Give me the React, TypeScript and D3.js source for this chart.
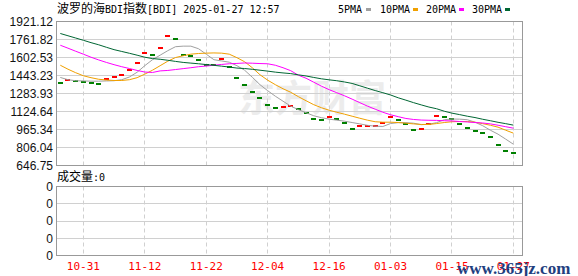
import React from 'react';
import * as d3 from 'd3';

const W = 578;
const H = 276;

const tickLabels = ['10-31', '11-12', '11-22', '12-04', '12-16', '01-03', '01-15', '01-27'];
const tickIndex = [3, 11, 19, 27, 35, 43, 51, 59];
const yTicks = [1921.12, 1761.82, 1602.53, 1443.23, 1283.93, 1124.64, 965.34, 806.04, 646.75];
const volTicks = [0, 1, 2, 3, 4];
const volTickLabels = ['0', '0', '0', '0', '0'];

const prevClose = 1390;
const close = [
  1381, 1399, 1395, 1390, 1381, 1372, 1408, 1426, 1452, 1492,
  1558, 1638, 1629, 1691, 1791, 1762, 1629, 1620, 1576, 1540,
  1534, 1585, 1517, 1417, 1355, 1300, 1240, 1178, 1160, 1166,
  1170, 1151, 1107, 1054, 1045, 1072, 1054, 1027, 974, 992,
  995, 997, 1027, 1072, 1045, 1010, 965, 968, 1012, 1089,
  1080, 1061, 1018, 983, 956, 930, 895, 824, 771, 753,
];
const ma5 = [
  1426, 1406, 1397, 1395, 1393, 1393, 1395, 1397, 1406, 1430,
  1472, 1530, 1583, 1623, 1663, 1698, 1703, 1703, 1680, 1632,
  1583, 1572, 1561, 1530, 1490, 1428, 1362, 1309, 1260, 1216,
  1172, 1141, 1114, 1087, 1070, 1057, 1048, 1039, 1027, 1015,
  1002, 995, 992, 1018, 1026, 1026, 1021, 1008, 1012, 1026,
  1052, 1058, 1057, 1052, 1030, 999, 959, 924, 880, 835,
];
const ma10 = [
  1534, 1499, 1468, 1441, 1424, 1410, 1403, 1399, 1399, 1406,
  1424, 1455, 1490, 1530, 1570, 1602, 1618, 1632, 1638, 1641,
  1643, 1641, 1632, 1601, 1565, 1512, 1450, 1402, 1362, 1326,
  1295, 1256, 1220, 1185, 1158, 1136, 1118, 1101, 1083, 1065,
  1048, 1034, 1030, 1030, 1027, 1021, 1015, 1010, 1010, 1018,
  1027, 1034, 1036, 1036, 1030, 1017, 1003, 986, 959, 933,
];
const ma20 = [
  1711, 1685, 1658, 1632, 1605, 1581, 1559, 1539, 1521, 1505,
  1488, 1474, 1470, 1484, 1488, 1496, 1504, 1512, 1521, 1527,
  1534, 1541, 1547, 1550, 1554, 1552, 1549, 1547, 1534, 1512,
  1486, 1446, 1419, 1384, 1349, 1318, 1291, 1264, 1234, 1203,
  1172, 1145, 1118, 1096, 1079, 1063, 1054, 1049, 1047, 1046,
  1043, 1041, 1036, 1032, 1027, 1023, 1015, 1003, 990, 977,
];
const ma30 = [
  1815, 1795, 1775, 1755, 1734, 1715, 1693, 1672, 1656, 1640,
  1623, 1605, 1593, 1587, 1578, 1568, 1559, 1553, 1547, 1540,
  1533, 1526, 1518, 1509, 1505, 1498, 1490, 1482, 1473, 1466,
  1460, 1449, 1439, 1426, 1414, 1405, 1397, 1386, 1373, 1352,
  1331, 1310, 1291, 1271, 1246, 1225, 1203, 1183, 1164, 1149,
  1127, 1110, 1097, 1083, 1071, 1056, 1043, 1029, 1017, 1004,
];

const legend = [
  { label: '5PMA', color: '#a0a0a0', data: ma5 },
  { label: '10PMA', color: '#f0a000', data: ma10 },
  { label: '20PMA', color: '#ff00ff', data: ma20 },
  { label: '30PMA', color: '#006633', data: ma30 },
];

const LEFT = 56.5;
const RIGHT = 522.5;
const TOP = 21.5;
const BOTTOM = 165.5;
const VTOP = 186.5;
const VBOTTOM = 255.5;

const MONO = "'DejaVu Sans Mono', 'Liberation Mono', monospace";
const CJK = "'Noto Sans CJK SC', sans-serif";
const SANS = "'Liberation Sans', Arial, sans-serif";

export default function App() {
  const x = d3.scaleLinear().domain([0, 59]).range([60.3, 513.4]);
  const y = d3.scaleLinear().domain([646.75, 1921.12]).range([BOTTOM, TOP]);
  const yv = d3.scaleLinear().domain([0, 4]).range([VBOTTOM, VTOP]);

  const line = d3
    .line<number>()
    .x((_, i) => x(i))
    .y((d) => y(d));

  const crisp = (v: number) => Math.floor(v) + 0.5;
  const legendX = [338, 380, 426, 472];
  const swatchX = [366, 413, 459, 505];

  return (
    <svg
      width={W}
      height={H}
      style={{ position: 'absolute', left: 0, top: 0, background: '#fff' }}
    >
      <rect x={0} y={0} width={W} height={H} fill="#fff" />

      {/* watermark */}
      <text x={238} y={112} fontFamily={CJK} fontSize={37} fill="#ececec" fontWeight={700}>
        东方财富
      </text>

      {/* Title */}
      <text x={57} y={13} fontSize={12} fill="#000">
        <tspan fontFamily={CJK}>波罗的海</tspan>
        <tspan fontFamily={MONO} fontSize={10}>BDI</tspan>
        <tspan fontFamily={CJK}>指数</tspan>
        <tspan fontFamily={MONO} fontSize={10}>[BDI] 2025-01-27 12:57</tspan>
      </text>

      {/* Legend */}
      {legend.map((l, k) => (
        <g key={l.label}>
          <text x={legendX[k]} y={12.5} fontFamily={MONO} fontSize={10} fill="#000">
            {l.label}
          </text>
          <rect x={swatchX[k]} y={8} width={5} height={3} fill={l.color} />
        </g>
      ))}

      {/* Main grid */}
      {yTicks.map((t) => (
        <line
          key={'h' + t}
          x1={LEFT}
          x2={RIGHT}
          y1={crisp(y(t))}
          y2={crisp(y(t))}
          stroke="#d0d0d0"
          strokeWidth={1}
        />
      ))}
      {tickIndex.map((ti) => (
        <line
          key={'v' + ti}
          x1={crisp(x(ti))}
          x2={crisp(x(ti))}
          y1={TOP}
          y2={BOTTOM}
          stroke="#d0d0d0"
          strokeDasharray="4,3"
        />
      ))}
      {yTicks.map((t) => (
        <text
          key={'yl' + t}
          x={53}
          y={y(t)}
          dy="0.36em"
          textAnchor="end"
          fontFamily={SANS}
          fontSize={12}
          fill="#111"
        >
          {t.toFixed(2)}
        </text>
      ))}

      {/* daily marks */}
      {close.map((c, i) => {
        const prev = i === 0 ? prevClose : close[i - 1];
        const color = c >= prev ? '#ff0000' : '#008000';
        return (
          <rect
            key={'m' + i}
            x={Math.round(x(i) - 2.5)}
            y={Math.round(y(c) - 1)}
            width={5}
            height={2}
            fill={color}
            shapeRendering="crispEdges"
          />
        );
      })}

      {/* MA lines */}
      {legend.map((l) => (
        <path
          key={'p' + l.label}
          d={line(l.data) || ''}
          fill="none"
          stroke={l.color}
          strokeWidth={1}
        />
      ))}

      <rect
        x={LEFT}
        y={TOP}
        width={RIGHT - LEFT}
        height={BOTTOM - TOP}
        fill="none"
        stroke="#999"
        strokeWidth={1}
      />

      {/* Volume panel */}
      <text x={57} y={181} fontSize={12} fill="#000">
        <tspan fontFamily={CJK}>成交量</tspan>
        <tspan fontFamily={MONO} fontSize={10}>:0</tspan>
      </text>
      {volTicks.map((t) => (
        <line
          key={'vh' + t}
          x1={LEFT}
          x2={RIGHT}
          y1={crisp(yv(t))}
          y2={crisp(yv(t))}
          stroke="#d0d0d0"
        />
      ))}
      {tickIndex.map((ti) => (
        <line
          key={'vv' + ti}
          x1={crisp(x(ti))}
          x2={crisp(x(ti))}
          y1={VTOP}
          y2={VBOTTOM}
          stroke="#d0d0d0"
          strokeDasharray="4,3"
        />
      ))}
      {volTicks.map((t, k) => (
        <text
          key={'vl' + t}
          x={53}
          y={yv(t)}
          dy="0.36em"
          textAnchor="end"
          fontFamily={SANS}
          fontSize={12}
          fill="#111"
        >
          {volTickLabels[k]}
        </text>
      ))}
      <rect
        x={LEFT}
        y={VTOP}
        width={RIGHT - LEFT}
        height={VBOTTOM - VTOP}
        fill="none"
        stroke="#999"
      />

      {/* x labels */}
      {tickIndex.map((ti, k) => (
        <text
          key={'xl' + ti}
          x={x(ti)}
          y={270}
          textAnchor="middle"
          fontFamily={MONO}
          fontSize={11}
          fill="#ff0000"
        >
          {tickLabels[k]}
        </text>
      ))}

      {/* site watermark */}
      <text
        x={457}
        y={274}
        fontFamily="'Liberation Serif', serif"
        fontWeight={700}
        fontSize={17}
        fill="#1f3f7f"
      >
        www.365jz.com
      </text>
    </svg>
  );
}
